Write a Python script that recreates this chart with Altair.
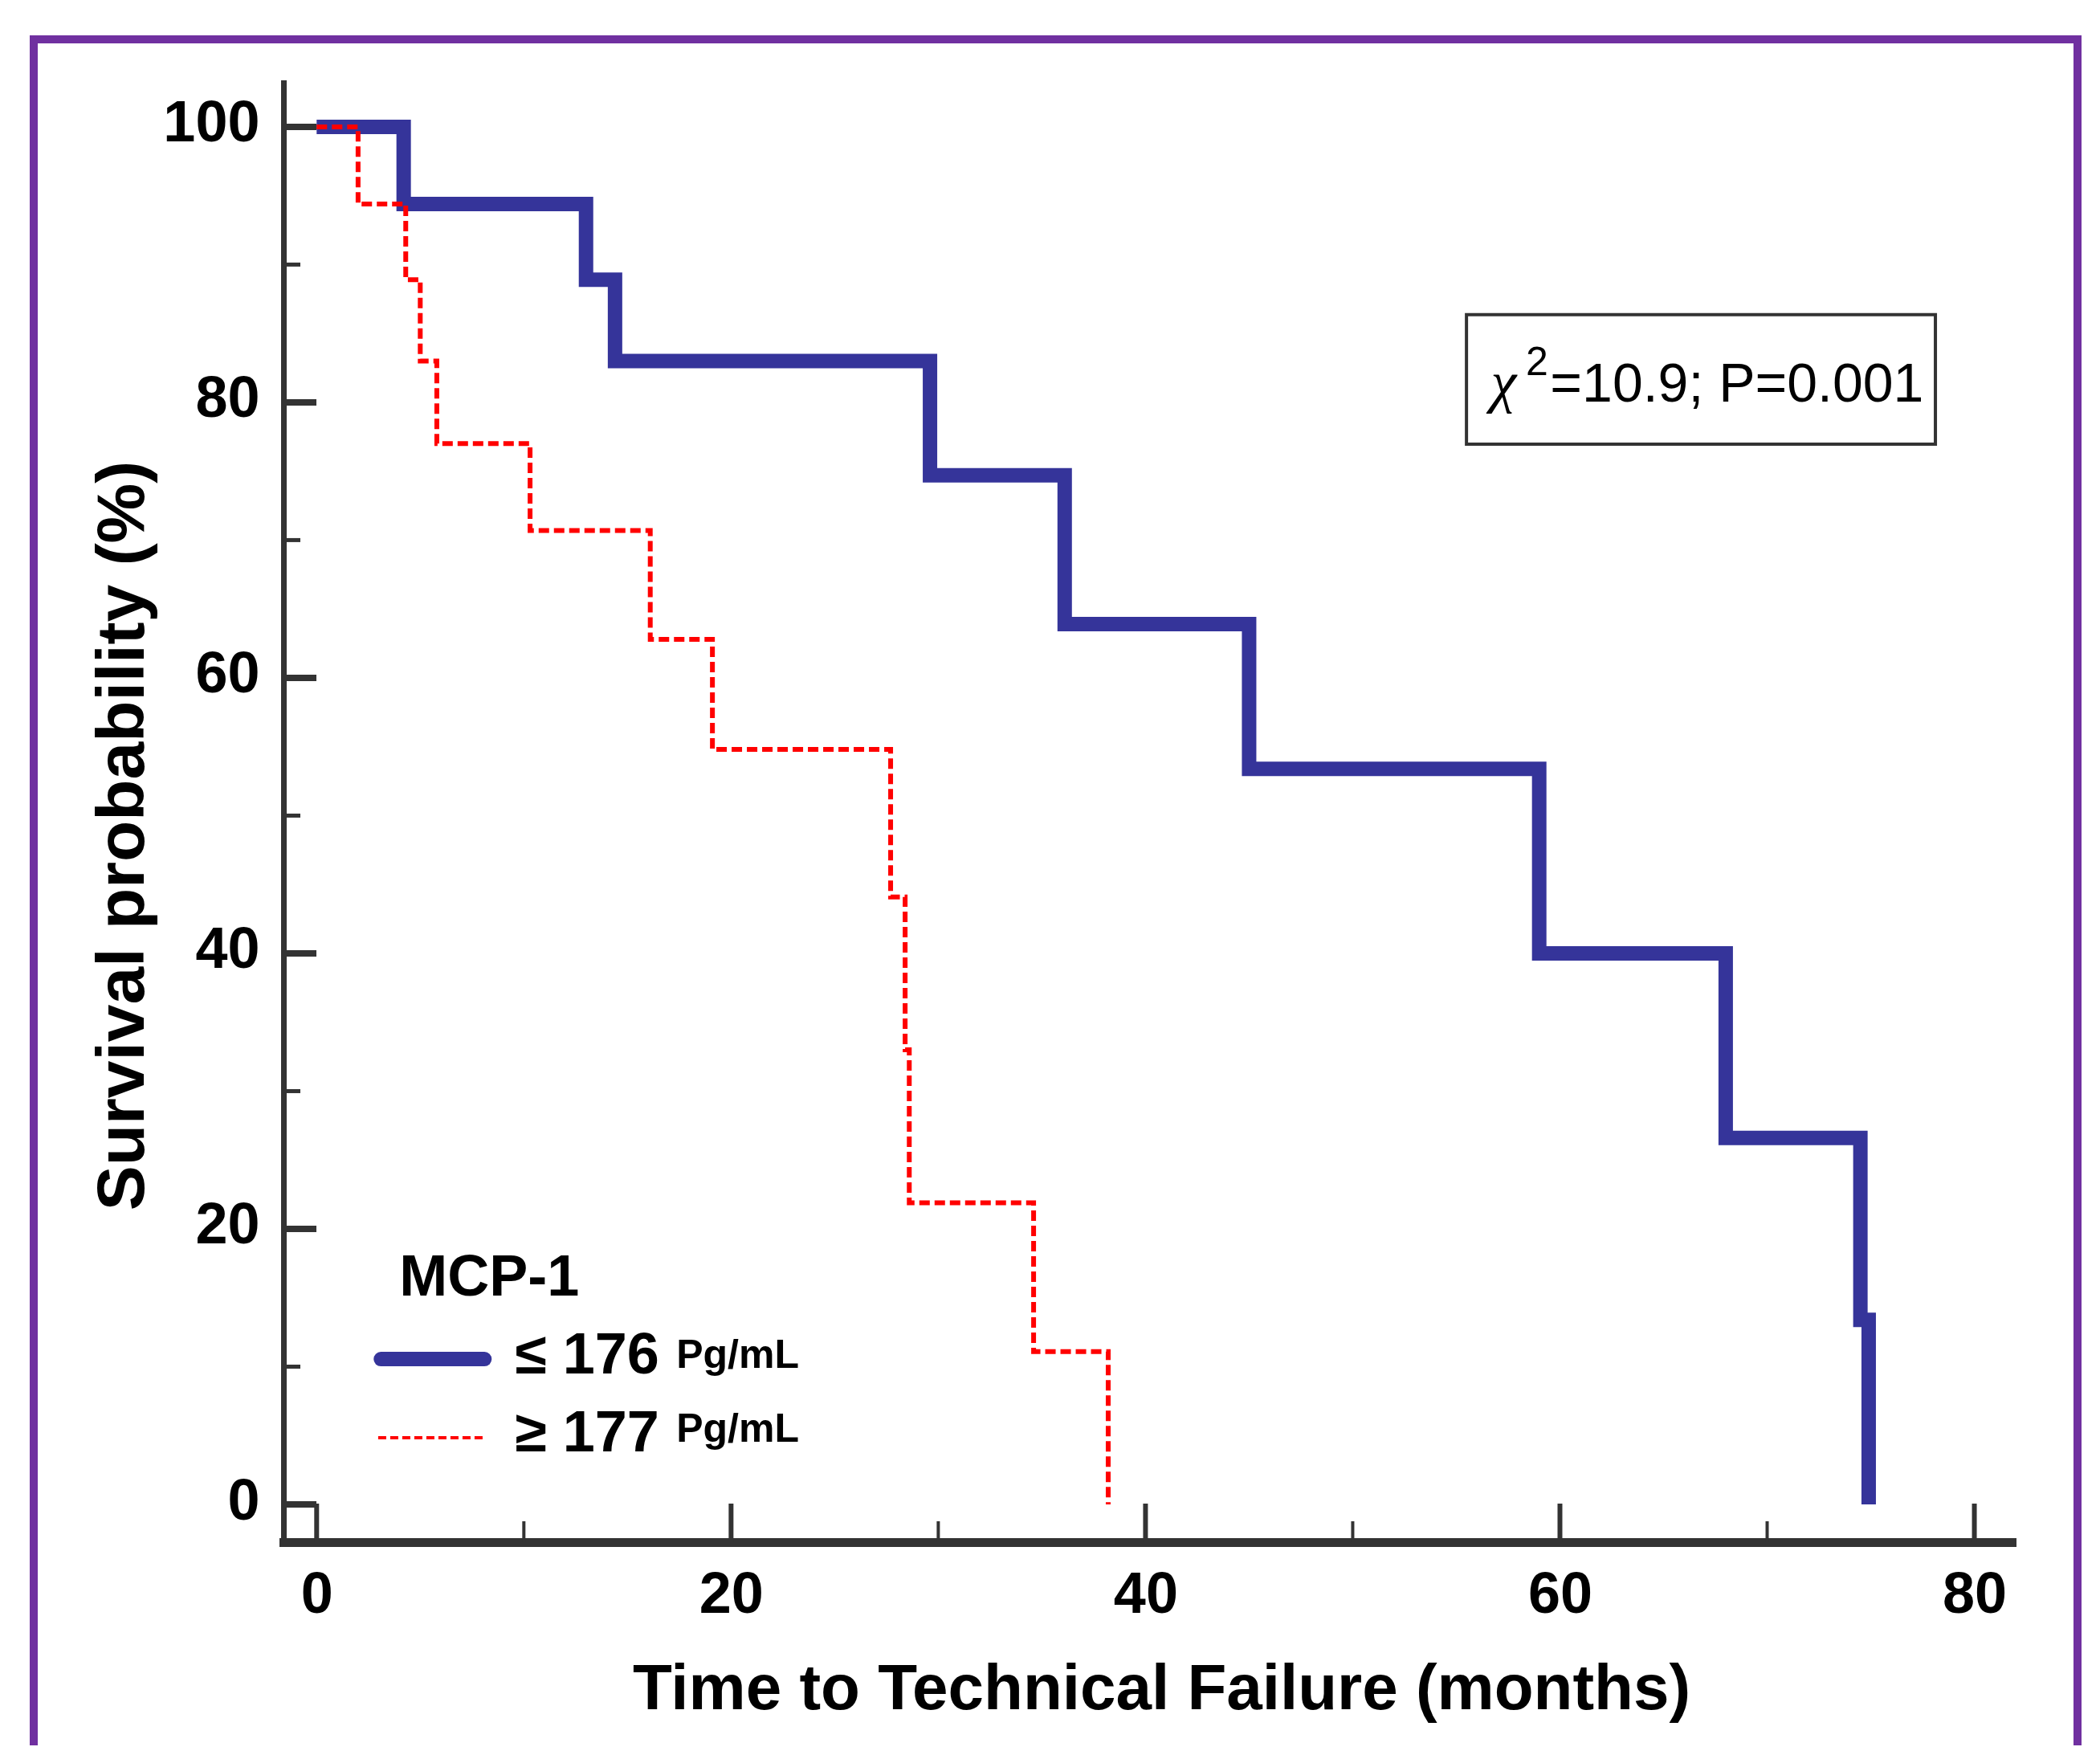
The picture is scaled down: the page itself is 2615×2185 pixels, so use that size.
import altair as alt
import pandas as pd

# ---- data ----
blue_time = [0, 4.2, 13.0, 14.4, 29.6, 36.1, 45.0, 59.0, 68.0, 74.5, 74.9]
blue_surv = [100, 94.4, 88.9, 83.0, 74.7, 63.9, 53.4, 40.0, 26.6, 13.4, 0]
red_time = [0, 2.0, 4.3, 5.0, 5.8, 10.3, 16.1, 19.1, 27.7, 28.4, 28.6, 34.6, 38.2]
red_surv = [100, 94.4, 88.9, 83.0, 77.0, 70.7, 62.8, 54.8, 44.1, 33.0, 21.9, 11.1, 0]

x_major = [0, 20, 40, 60, 80]
x_minor = [10, 30, 50, 70]
y_major = [0, 20, 40, 60, 80, 100]
y_minor = [10, 30, 50, 70, 90]

legend_title = "MCP-1"
legend_labels = ["≤ 176", "≥ 177"]
legend_unit = "Pg/mL"
stat_text = "=10.9; P=0.001"

# ---- layout ----
W, H = 2152, 1817
XDOM = [-1.6, 81.8]
YDOM = [-2.74, 103.2]
FONT = "Liberation Sans"
AXC = "#333333"
BLUE = "#35349A"
RED = "#FF0000"
PURPLE = "#7030A0"

xs = alt.Scale(domain=XDOM, nice=False, zero=False)
ys = alt.Scale(domain=YDOM, nice=False, zero=False)

x_axis = alt.Axis(
    values=x_major, format="d", labelFont=FONT, labelFontSize=72,
    labelFontWeight="bold", labelColor="black", ticks=False, tickSize=0,
    domain=True, domainColor=AXC, domainWidth=11, domainCap="square",
    labelPadding=30, labelFlush=False, labelOverlap=False, grid=False,
    title="Time to Technical Failure (months)", titleFont=FONT,
    titleFontSize=80, titleFontWeight="bold", titleColor="black",
    titleX=1093, titleY=207, titleAlign="center", titleBaseline="alphabetic",
)
y_axis = alt.Axis(
    values=y_major, format="d", labelFont=FONT, labelFontSize=72,
    labelFontWeight="bold", labelColor="black", ticks=False, tickSize=0,
    domain=True, domainColor=AXC, domainWidth=7, domainCap="square",
    labelPadding=30, labelFlush=False, labelOverlap=False, labelOffset=-4,
    grid=False,
    title="Survival probability (%)", titleFont=FONT, titleFontSize=84,
    titleFontWeight="bold", titleColor="black", titleAngle=270,
    titleX=-175, titleY=937, titleAlign="center", titleBaseline="alphabetic",
)


def X(field):
    return alt.X(field, scale=xs, axis=x_axis)


def Y(field):
    return alt.Y(field, scale=ys, axis=y_axis)


blue_df = pd.DataFrame({"t": blue_time, "s": blue_surv})
red_df = pd.DataFrame({"t": red_time, "s": red_surv})

# frame around the figure
frame = alt.Chart(pd.DataFrame({"a": [0]})).mark_rect(
    fill="white", fillOpacity=0, stroke=PURPLE, strokeWidth=10
).encode(x=alt.value(-311), x2=alt.value(2234), y=alt.value(-54), y2=alt.value(2150))

# inward ticks
ytm = alt.Chart(pd.DataFrame({"v": y_major})).mark_rule(color=AXC, strokeWidth=8).encode(
    y=Y("v:Q"), x=alt.value(0), x2=alt.value(41))
ytn = alt.Chart(pd.DataFrame({"v": y_minor})).mark_rule(color=AXC, strokeWidth=5).encode(
    y=Y("v:Q"), x=alt.value(0), x2=alt.value(21))
xtm = alt.Chart(pd.DataFrame({"v": x_major})).mark_rule(color=AXC, strokeWidth=6).encode(
    x=X("v:Q"), y=alt.value(H), y2=alt.value(H - 48))
xtn = alt.Chart(pd.DataFrame({"v": x_minor})).mark_rule(color=AXC, strokeWidth=4).encode(
    x=X("v:Q"), y=alt.value(H), y2=alt.value(H - 26))

blue = alt.Chart(blue_df).mark_line(
    interpolate="step-after", color=BLUE, strokeWidth=18, strokeJoin="miter", strokeCap="butt"
).encode(x=X("t:Q"), y=Y("s:Q"))

red = alt.Chart(red_df).mark_line(
    interpolate="step-after", color=RED, strokeWidth=6, strokeDash=[13, 6], strokeJoin="miter"
).encode(x=X("t:Q"), y=Y("s:Q"))

# statistic box
box = alt.Chart(pd.DataFrame({"x": [55.49], "x2": [78.12], "y": [86.37], "y2": [76.97]})).mark_rect(
    fill="white", fillOpacity=0, stroke=AXC, strokeWidth=4
).encode(x=X("x:Q"), x2="x2:Q", y=Y("y:Q"), y2="y2:Q")


def text_layer(xv, yv, txt, size, weight="normal", font=FONT, style="normal"):
    df = pd.DataFrame({"x": xv, "y": yv, "txt": txt})
    return alt.Chart(df).mark_text(
        align="left", baseline="alphabetic", font=font, fontSize=size,
        fontWeight=weight, fontStyle=style, color="black"
    ).encode(x=X("x:Q"), y=Y("y:Q"), text="txt:N")


chi = text_layer([56.67], [80.06], ["χ"], 72, font="Liberation Serif", style="italic")
sup = text_layer([58.35], [82.0], ["2"], 50)
stat = text_layer([59.53], [80.06], [stat_text], 68)

leg_title = text_layer([3.99], [15.16], [legend_title], 72, weight="bold")
leg_lab = text_layer([9.57, 9.57], [9.50, 3.85], legend_labels, 72, weight="bold")
leg_unit = text_layer([17.36, 17.36], [9.91, 4.55], [legend_unit, legend_unit], 50, weight="bold")

leg_blue = alt.Chart(pd.DataFrame({"x": [3.1], "x2": [8.1], "y": [10.55]})).mark_rule(
    color=BLUE, strokeWidth=18, strokeCap="round"
).encode(x=X("x:Q"), x2="x2:Q", y=Y("y:Q"))
leg_red = alt.Chart(pd.DataFrame({"x": [2.97], "x2": [8.01], "y": [4.84]})).mark_rule(
    color=RED, strokeWidth=4, strokeDash=[10, 5]
).encode(x=X("x:Q"), x2="x2:Q", y=Y("y:Q"))

chart = alt.layer(
    frame, ytm, ytn, xtm, xtn, blue, red, box, chi, sup, stat,
    leg_title, leg_lab, leg_unit, leg_blue, leg_red
).properties(
    width=W, height=H,
    autosize=alt.AutoSizeParams(type="none"),
    padding={"left": 345, "top": 95, "right": 92, "bottom": 253},
    background="white",
).configure_view(stroke=None)

chart.save("out.html", embed_options={"renderer": "svg", "actions": False})
